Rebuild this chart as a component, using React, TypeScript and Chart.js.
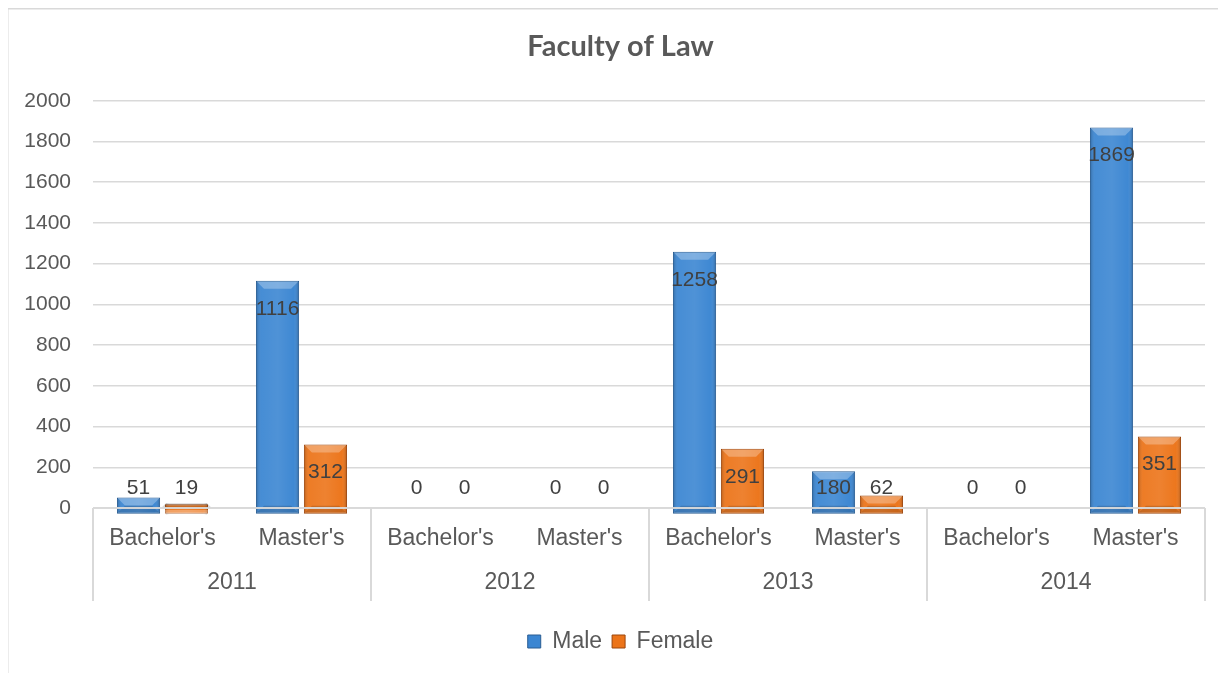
import React, { useEffect, useRef } from "react";
import { Chart, registerables } from "chart.js";

Chart.register(...registerables);

const TITLE = "Faculty of Law";
const YEARS = ["2011", "2012", "2013", "2014"];
const LEVELS = ["Bachelor's", "Master's"];
const CATEGORIES = YEARS.flatMap(() => LEVELS);
const MALE = [51, 1116, 0, 0, 1258, 180, 0, 1869];
const FEMALE = [19, 312, 0, 0, 291, 62, 0, 351];
const Y_MIN = 0;
const Y_MAX = 2000;
const Y_STEP = 200;

const SERIES = [
  { name: "Male", values: MALE, color: "#3b86d2", border: "#2a5d92" },
  { name: "Female", values: FEMALE, color: "#ec7419", border: "#9c460c" },
];

const BASE_DROP = 28; // visual 3D base below the zero line (in value units)

const TEXT = "#595959";
const LABEL = "#404040";
const GRID = "#d9d9d9";
const FONT = "'Liberation Sans', Arial, sans-serif";

const decoPlugin = {
  id: "deco",
  beforeDraw(chart: any) {
    const { ctx, width, height } = chart;
    ctx.save();
    ctx.fillStyle = "#ffffff";
    ctx.fillRect(0, 0, width, height);
    ctx.strokeStyle = GRID;
    ctx.lineWidth = 1.5;
    ctx.strokeRect(0.75, 0.75, width + 20, height + 20);
    ctx.restore();
  },
  afterDatasetsDraw(chart: any) {
    const { ctx, chartArea } = chart;
    const ys = chart.scales.y;
    const zeroY = ys.getPixelForValue(0);
    ctx.save();
    chart.data.datasets.forEach((ds: any, di: number) => {
      const meta = chart.getDatasetMeta(di);
      meta.data.forEach((el: any, i: number) => {
        if (ds.data[i] == null) return;
        const w = el.width;
        const x0 = el.x - w / 2;
        const top = el.y;
        const bottom = el.base;
        const g = ctx.createLinearGradient(x0, 0, x0 + w, 0);
        g.addColorStop(0, "rgba(0,0,0,0.22)");
        g.addColorStop(0.12, "rgba(255,255,255,0.06)");
        g.addColorStop(0.5, "rgba(255,255,255,0.10)");
        g.addColorStop(0.88, "rgba(255,255,255,0.02)");
        g.addColorStop(1, "rgba(0,0,0,0.25)");
        ctx.fillStyle = g;
        ctx.fillRect(x0 + 1, top + 1, w - 2, bottom - top - 2);
        const bev = Math.min(7, (bottom - top) / 2);
        ctx.beginPath();
        ctx.moveTo(x0 + 1, top + 1);
        ctx.lineTo(x0 + w - 1, top + 1);
        ctx.lineTo(x0 + w - 1 - bev, top + 1 + bev);
        ctx.lineTo(x0 + 1 + bev, top + 1 + bev);
        ctx.closePath();
        ctx.fillStyle = "rgba(255,255,255,0.28)";
        ctx.fill();
        ctx.beginPath();
        ctx.moveTo(x0 + 1, bottom - 1);
        ctx.lineTo(x0 + w - 1, bottom - 1);
        ctx.lineTo(x0 + w - 1 - bev, bottom - 1 - bev);
        ctx.lineTo(x0 + 1 + bev, bottom - 1 - bev);
        ctx.closePath();
        ctx.fillStyle = "rgba(0,0,0,0.15)";
        ctx.fill();
      });
    });
    ctx.strokeStyle = "rgba(217,217,217,0.95)";
    ctx.lineWidth = 2;
    ctx.beginPath();
    ctx.moveTo(chartArea.left, zeroY);
    ctx.lineTo(chartArea.right, zeroY);
    ctx.stroke();
    const n = CATEGORIES.length;
    const catW = (chartArea.right - chartArea.left) / n;
    const per = LEVELS.length;
    ctx.strokeStyle = GRID;
    ctx.lineWidth = 2;
    for (let k = 0; k <= YEARS.length; k++) {
      const x = chartArea.left + k * per * catW;
      ctx.beginPath();
      ctx.moveTo(x, zeroY);
      ctx.lineTo(x, zeroY + 93);
      ctx.stroke();
    }
    ctx.fillStyle = TEXT;
    ctx.font = `23px ${FONT}`;
    ctx.textAlign = "center";
    ctx.textBaseline = "middle";
    YEARS.forEach((yr, k) => {
      const x = chartArea.left + (k * per + per / 2) * catW;
      ctx.fillText(yr, x, zeroY + 75);
    });
    ctx.fillStyle = LABEL;
    ctx.font = `21px ${FONT}`;
    SERIES.forEach((s, di) => {
      const meta = chart.getDatasetMeta(di);
      s.values.forEach((v, i) => {
        const el = meta.data[i];
        const topY = ys.getPixelForValue(v);
        const y = Math.min(topY + 28, zeroY - 20);
        ctx.fillText(String(v), el.x, y);
      });
    });
    ctx.restore();
  },
};

export default function App() {
  const ref = useRef<HTMLCanvasElement | null>(null);
  useEffect(() => {
    if (!ref.current) return;
    const chart = new Chart(ref.current, {
      type: "bar",
      data: {
        labels: CATEGORIES,
        datasets: SERIES.map((s) => ({
          label: s.name,
          data: s.values.map((v) => (v > 0 ? [-BASE_DROP, v] : null)) as any,
          backgroundColor: s.color,
          borderColor: s.border,
          borderWidth: 1,
          borderSkipped: false,
          categoryPercentage: 0.69,
          barPercentage: 0.9,
          clip: false as any,
        })),
      },
      options: {
        responsive: false,
        animation: false,
        layout: { padding: { top: 0, right: 0, bottom: 10, left: 0 } },
        plugins: {
          title: {
            display: true,
            text: TITLE,
            color: TEXT,
            font: { family: "Lato, 'Open Sans', sans-serif", size: 29, weight: "bold" },
            padding: { top: 21, bottom: 37 },
          },
          legend: {
            position: "bottom",
            labels: {
              color: TEXT,
              font: { family: FONT, size: 23 },
              boxWidth: 13,
              boxHeight: 13,
              padding: 10,
            },
          },
          tooltip: { enabled: false },
        },
        scales: {
          x: {
            grid: { display: false, drawTicks: false },
            border: { display: false },
            ticks: {
              color: TEXT,
              font: { family: FONT, size: 23 },
              padding: 17,
              maxRotation: 0,
              autoSkip: false,
            },
            afterFit: (scale: any) => {
              scale.height = 112;
            },
          },
          y: {
            min: Y_MIN,
            max: Y_MAX,
            ticks: {
              stepSize: Y_STEP,
              color: TEXT,
              font: { family: FONT, size: 21 },
              padding: 22,
              callback: (v: any) => String(v),
            },
            grid: { color: GRID, lineWidth: 1.5, drawTicks: false },
            border: { display: false },
            afterFit: (scale: any) => {
              scale.width = 86;
            },
          },
          yPad: {
            type: "linear",
            position: "right",
            display: true,
            grid: { display: false, drawTicks: false },
            border: { display: false },
            ticks: { display: false },
            afterFit: (scale: any) => {
              scale.width = 29;
            },
          },
        },
      },
      plugins: [decoPlugin],
    });
    return () => chart.destroy();
  }, []);
  return (
    <div style={{ width: 1219, height: 665, marginLeft: -1, overflow: "hidden" }}>
      <canvas ref={ref} width={1227} height={665} style={{ display: "block" }} />
    </div>
  );
}
